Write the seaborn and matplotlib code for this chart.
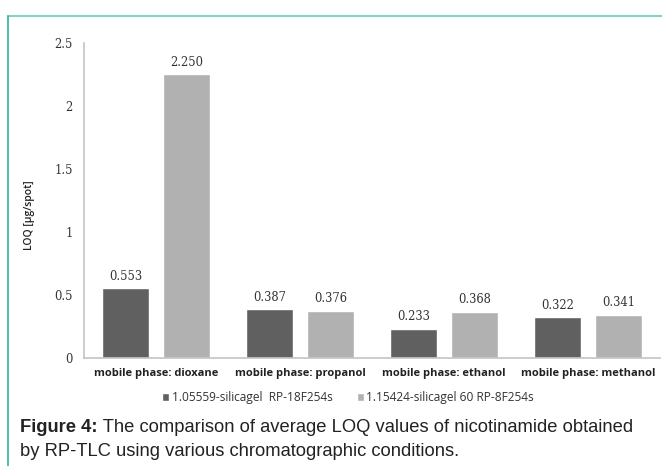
import pandas as pd
import matplotlib
matplotlib.use("Agg")
import matplotlib.pyplot as plt
import seaborn as sns
from matplotlib.lines import Line2D

# values
categories = ['mobile phase: dioxane', 'mobile phase: propanol',
              'mobile phase: ethanol', 'mobile phase: methanol']
series_names = ['1.05559-silicagel  RP-18F254s', '1.15424-silicagel 60 RP-8F254s']
rp18_loq = [0.553, 0.387, 0.233, 0.322]
rp8_loq = [2.250, 0.376, 0.368, 0.341]
yticks = [0, 0.5, 1, 1.5, 2, 2.5]
ytick_labels = ['0', '0.5', '1', '1.5', '2', '2.5']

df = pd.DataFrame({
    'phase': categories * 2,
    'plate': [series_names[0]] * 4 + [series_names[1]] * 4,
    'loq': rp18_loq + rp8_loq,
})

sns.set_style("white")
plt.rcParams['font.family'] = ['DejaVu Serif']

fig = plt.figure(figsize=(6.62, 4.66), dpi=100)
ax = fig.add_axes([0.127, 0.232, 0.870, 0.676])

sns.barplot(data=df, x='phase', y='loq', hue='plate', ax=ax,
            palette=['#606060', '#b1b1b1'], width=0.85, gap=0.23,
            saturation=1, legend=True)

for container in ax.containers:
    ax.bar_label(container, fmt='%.3f', padding=4, fontsize=8.3,
                 color='#333333', family='DejaVu Serif')

ax.set_ylim(0, 2.5)
ax.set_yticks(yticks)
ax.set_yticklabels(ytick_labels, fontsize=8.3, color='#333333')
ax.set_xlabel('')
ax.set_ylabel('LOQ [µg/spot]', fontsize=7.5, family='Open Sans', fontweight='semibold',
              color='#222222')
ax.yaxis.set_label_coords(-(84 - 35) / 576, (358 - 215) / 315)
ax.tick_params(axis='both', length=0)
ax.tick_params(axis='y', pad=8)
ax.tick_params(axis='x', pad=7)
for lab in ax.get_xticklabels():
    lab.set_family('Open Sans')
    lab.set_fontweight('bold')
    lab.set_fontsize(8.0)
    lab.set_color('#222222')

for side in ['top', 'right']:
    ax.spines[side].set_visible(False)
for side in ['left', 'bottom']:
    ax.spines[side].set_color('#c4c4c4')
    ax.spines[side].set_linewidth(1.2)

handles, labels = ax.get_legend_handles_labels()
ax.get_legend().remove()
leg = fig.legend(handles, labels, loc='center', bbox_to_anchor=(348 / 662, 1 - 398 / 466), ncol=2,
                 frameon=False, handlelength=0.6, handleheight=0.6, handletextpad=0.2,
                 columnspacing=2.0, prop={'family': 'Open Sans', 'size': 8.6})
for t in leg.get_texts():
    t.set_color('#333333')

# teal frame lines of the figure box
fig.add_artist(Line2D([8 / 662, 1], [1 - 16 / 466, 1 - 16 / 466], color='#7fd4c7', lw=1.5))
fig.add_artist(Line2D([8 / 662, 8 / 662], [0, 1 - 16 / 466], color='#2fb39f', lw=1.2))

cap_size = 13.2
t1 = fig.text(20 / 662, 1 - 428 / 466, 'Figure 4:', fontsize=cap_size, fontweight='bold',
              family='Liberation Sans', color='#222222', va='center')
fig.canvas.draw()
w = t1.get_window_extent().width
fig.text((20 + w) / 662, 1 - 428 / 466,
         ' The comparison of average LOQ values of nicotinamide obtained',
         fontsize=cap_size, family='Liberation Sans', color='#222222', va='center')
fig.text(20 / 662, 1 - 452 / 466, 'by RP-TLC using various chromatographic conditions.',
         fontsize=cap_size, family='Liberation Sans', color='#222222', va='center')

fig.savefig('out.png', dpi=100)
